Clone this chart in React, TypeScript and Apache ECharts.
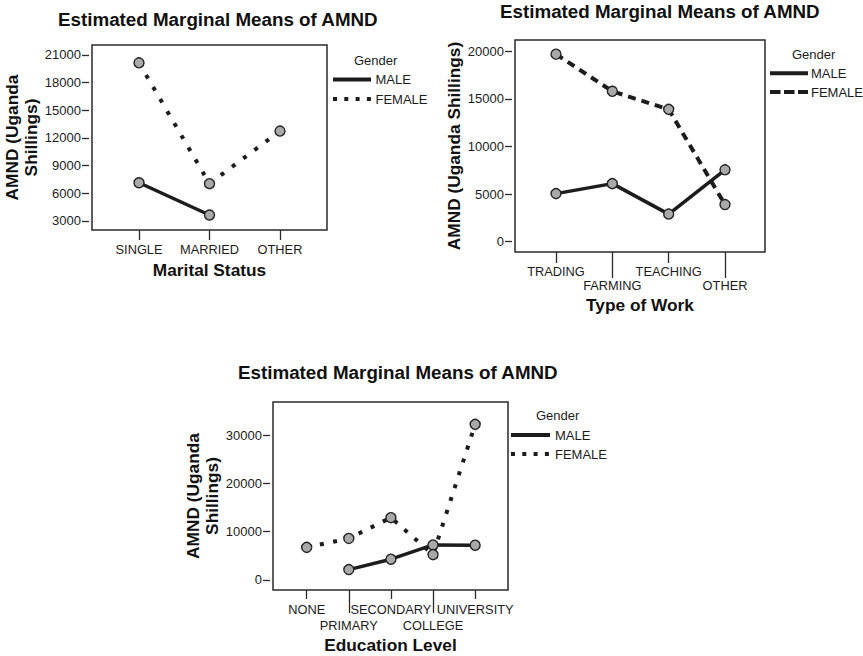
import React, { useEffect, useRef } from "react";
import * as echarts from "echarts";

const titleText = "Estimated Marginal Means of AMND";
const yAxisNameTwoLines = "AMND (Uganda\nShillings)";
const yAxisNameOneLine = "AMND (Uganda Shillings)";
const legendTitle = "Gender";
const seriesNames = ["MALE", "FEMALE"];

const maritalCategories = ["SINGLE", "MARRIED", "OTHER"];
const maritalMale = [7150, 3650, null];
const maritalFemale = [20150, 7050, 12750];
const maritalTicks = [3000, 6000, 9000, 12000, 15000, 18000, 21000];

const workCategories = ["TRADING", "FARMING", "TEACHING", "OTHER"];
const workMale = [5050, 6100, 2900, 7550];
const workFemale = [19700, 15800, 13900, 3900];
const workTicks = [0, 5000, 10000, 15000, 20000];

const eduCategories = ["NONE", "PRIMARY", "SECONDARY", "COLLEGE", "UNIVERSITY"];
const eduMale = [null, 2150, 4300, 7250, 7200];
const eduFemale = [6750, 8600, 12900, 5250, 32200];
const eduTicks = [0, 10000, 20000, 30000];

const FONT = "'Liberation Sans', Arial, Helvetica, sans-serif";
const INK = "#1c1c1c";

type Panel = {
  cats: string[];
  male: (number | null)[];
  female: (number | null)[];
  ticks: number[];
  grid: { left: number; top: number; width: number; height: number };
  xMin: number;
  xMax: number;
  yMin: number;
  yMax: number;
  xName: string;
  xNameGap: number;
  yName: string;
  yNameGap: number;
  femaleDash: number[];
  titleLeft: number;
  titleTop: number;
  staggered: boolean;
  shortTick: number;
  longTick: number;
  labelMargin: number;
  longLabelMargin: number;
  legend: { gx: number; gy: number; lx1: number; lx2: number; my: number; fy: number; tx: number; dash: number[] };
};

const panels: Panel[] = [
  {
    cats: maritalCategories,
    male: maritalMale,
    female: maritalFemale,
    ticks: maritalTicks,
    grid: { left: 92, top: 45, width: 235, height: 185 },
    xMin: -0.667,
    xMax: 2.667,
    yMin: 2024,
    yMax: 22084,
    xName: "Marital Status",
    xNameGap: 31,
    yName: yAxisNameTwoLines,
    yNameGap: 44.5,
    femaleDash: [4, 10],
    titleLeft: 58,
    titleTop: 10,
    staggered: false,
    shortTick: 10,
    longTick: 10,
    labelMargin: 12.5,
    longLabelMargin: 12.5,
    legend: { gx: 354, gy: 60, lx1: 333, lx2: 371, my: 79.5, fy: 99, tx: 375.5, dash: [4, 7.3] },
  },
  {
    cats: workCategories,
    male: workMale,
    female: workFemale,
    ticks: workTicks,
    grid: { left: 515, top: 40, width: 250, height: 212 },
    xMin: -0.728,
    xMax: 3.71,
    yMin: -1082,
    yMax: 21187,
    xName: "Type of Work",
    xNameGap: 44.5,
    yName: yAxisNameOneLine,
    yNameGap: 43.5,
    femaleDash: [8, 6],
    titleLeft: 500,
    titleTop: 2,
    staggered: true,
    shortTick: 11,
    longTick: 26,
    labelMargin: 12.5,
    longLabelMargin: 26.5,
    legend: { gx: 792, gy: 54, lx1: 770, lx2: 808, my: 73.3, fy: 92, tx: 811, dash: [10.5, 3.5] },
  },
  {
    cats: eduCategories,
    male: eduMale,
    female: eduFemale,
    ticks: eduTicks,
    grid: { left: 273, top: 402, width: 235, height: 188 },
    xMin: -0.8,
    xMax: 4.78,
    yMin: -2069,
    yMax: 36828,
    xName: "Education Level",
    xNameGap: 46.5,
    yName: yAxisNameTwoLines,
    yNameGap: 44.5,
    femaleDash: [4, 9.5],
    titleLeft: 238,
    titleTop: 362.5,
    staggered: true,
    shortTick: 9,
    longTick: 23,
    labelMargin: 13,
    longLabelMargin: 28.5,
    legend: { gx: 536, gy: 415.5, lx1: 511, lx2: 550, my: 435, fy: 454, tx: 555, dash: [4, 7.3] },
  },
];

function buildOption() {
  const grid: any[] = [];
  const xAxis: any[] = [];
  const yAxis: any[] = [];
  const series: any[] = [];
  const title: any[] = [];
  const graphic: any[] = [];

  panels.forEach((p, gi) => {
    grid.push({
      ...p.grid,
      show: true,
      borderColor: "#2a2a2a",
      borderWidth: 1.5,
      backgroundColor: "#ffffff",
      containLabel: false,
    });

    const allIdx = p.cats.map((_, i) => i);
    const shortIdx = p.staggered ? allIdx.filter((i) => i % 2 === 0) : allIdx;
    const longIdx = p.staggered ? allIdx.filter((i) => i % 2 === 1) : [];

    const baseX = {
      type: "value",
      gridIndex: gi,
      position: "bottom",
      min: p.xMin,
      max: p.xMax,
      axisLine: { show: false, onZero: false },
      splitLine: { show: false },
      axisLabel: {
        formatter: (v: number) => p.cats[Math.round(v)] ?? "",
        color: INK,
        fontFamily: FONT,
        fontSize: 12.8,
      },
    };
    const firstXIndex = xAxis.length;
    xAxis.push({
      ...baseX,
      name: p.xName,
      nameLocation: "middle",
      nameGap: p.xNameGap,
      nameTextStyle: { fontFamily: FONT, fontSize: 17.3, fontWeight: "bold", color: "#111" },
      axisTick: { show: true, customValues: shortIdx, length: p.shortTick, lineStyle: { color: "#2a2a2a", width: 1.3 } },
      axisLabel: { ...baseX.axisLabel, customValues: shortIdx, margin: p.labelMargin },
    });
    if (longIdx.length) {
      xAxis.push({
        ...baseX,
        axisTick: { show: true, customValues: longIdx, length: p.longTick, lineStyle: { color: "#2a2a2a", width: 1.3 } },
        axisLabel: { ...baseX.axisLabel, customValues: longIdx, margin: p.longLabelMargin },
      });
    }

    const yIndex = yAxis.length;
    yAxis.push({
      type: "value",
      gridIndex: gi,
      position: "left",
      min: p.yMin,
      max: p.yMax,
      offset: 3,
      name: p.yName,
      nameLocation: "middle",
      nameGap: p.yNameGap,
      nameTextStyle: { fontFamily: FONT, fontSize: 17.3, fontWeight: "bold", color: "#111", lineHeight: 19, align: "center" },
      axisLine: { show: false, onZero: false },
      splitLine: { show: false },
      axisTick: { show: true, customValues: p.ticks, length: 7, lineStyle: { color: "#2a2a2a", width: 1.3 } },
      axisLabel: {
        customValues: p.ticks,
        margin: 8,
        color: INK,
        fontFamily: FONT,
        fontSize: 13,
        formatter: (v: number) => String(v),
      },
    });

    const toPairs = (vals: (number | null)[]) =>
      vals.map((v, i) => (v === null ? null : [i, v])).filter((d) => d !== null);

    const common = {
      type: "line",
      xAxisIndex: firstXIndex,
      yAxisIndex: yIndex,
      symbol: "circle",
      symbolSize: 10,
      showSymbol: true,
      itemStyle: { color: "#a9a9a9", borderColor: "#222", borderWidth: 1.4 },
      emphasis: { disabled: true },
      silent: true,
    };
    series.push({
      ...common,
      name: seriesNames[0],
      data: toPairs(p.male),
      lineStyle: { color: INK, width: 3.5, type: "solid" },
    });
    series.push({
      ...common,
      name: seriesNames[1],
      data: toPairs(p.female),
      lineStyle: { color: INK, width: 4, type: p.femaleDash, cap: "butt" },
    });

    title.push({
      text: titleText,
      left: p.titleLeft,
      top: p.titleTop,
      padding: 0,
      textStyle: { fontFamily: FONT, fontSize: 18.8, fontWeight: "bold", color: "#111" },
    });

    const L = p.legend;
    graphic.push(
      {
        type: "text",
        x: L.gx,
        y: L.gy,
        style: { text: legendTitle, fontFamily: FONT, fontSize: 13, fill: INK, verticalAlign: "middle", align: "left" },
      },
      {
        type: "line",
        shape: { x1: L.lx1, y1: L.my, x2: L.lx2, y2: L.my },
        style: { stroke: INK, lineWidth: 4 },
      },
      {
        type: "text",
        x: L.tx,
        y: L.my,
        style: { text: seriesNames[0], fontFamily: FONT, fontSize: 13, fill: INK, verticalAlign: "middle", align: "left" },
      },
      {
        type: "line",
        shape: { x1: L.lx1, y1: L.fy, x2: L.lx2, y2: L.fy },
        style: { stroke: INK, lineWidth: 4, lineDash: L.dash, lineCap: "butt" },
      },
      {
        type: "text",
        x: L.tx,
        y: L.fy,
        style: { text: seriesNames[1], fontFamily: FONT, fontSize: 13, fill: INK, verticalAlign: "middle", align: "left" },
      }
    );
  });

  return {
    animation: false,
    backgroundColor: "#ffffff",
    textStyle: { fontFamily: FONT },
    title,
    grid,
    xAxis,
    yAxis,
    series,
    graphic,
  };
}

export default function App() {
  const ref = useRef<HTMLDivElement>(null);
  useEffect(() => {
    if (!ref.current) return;
    const chart = echarts.init(ref.current, null, { renderer: "svg" });
    chart.setOption(buildOption() as any);
    return () => chart.dispose();
  }, []);
  return (
    <div
      ref={ref}
      style={{ position: "fixed", left: 0, top: 0, width: 863, height: 656, background: "#fff" }}
    />
  );
}
